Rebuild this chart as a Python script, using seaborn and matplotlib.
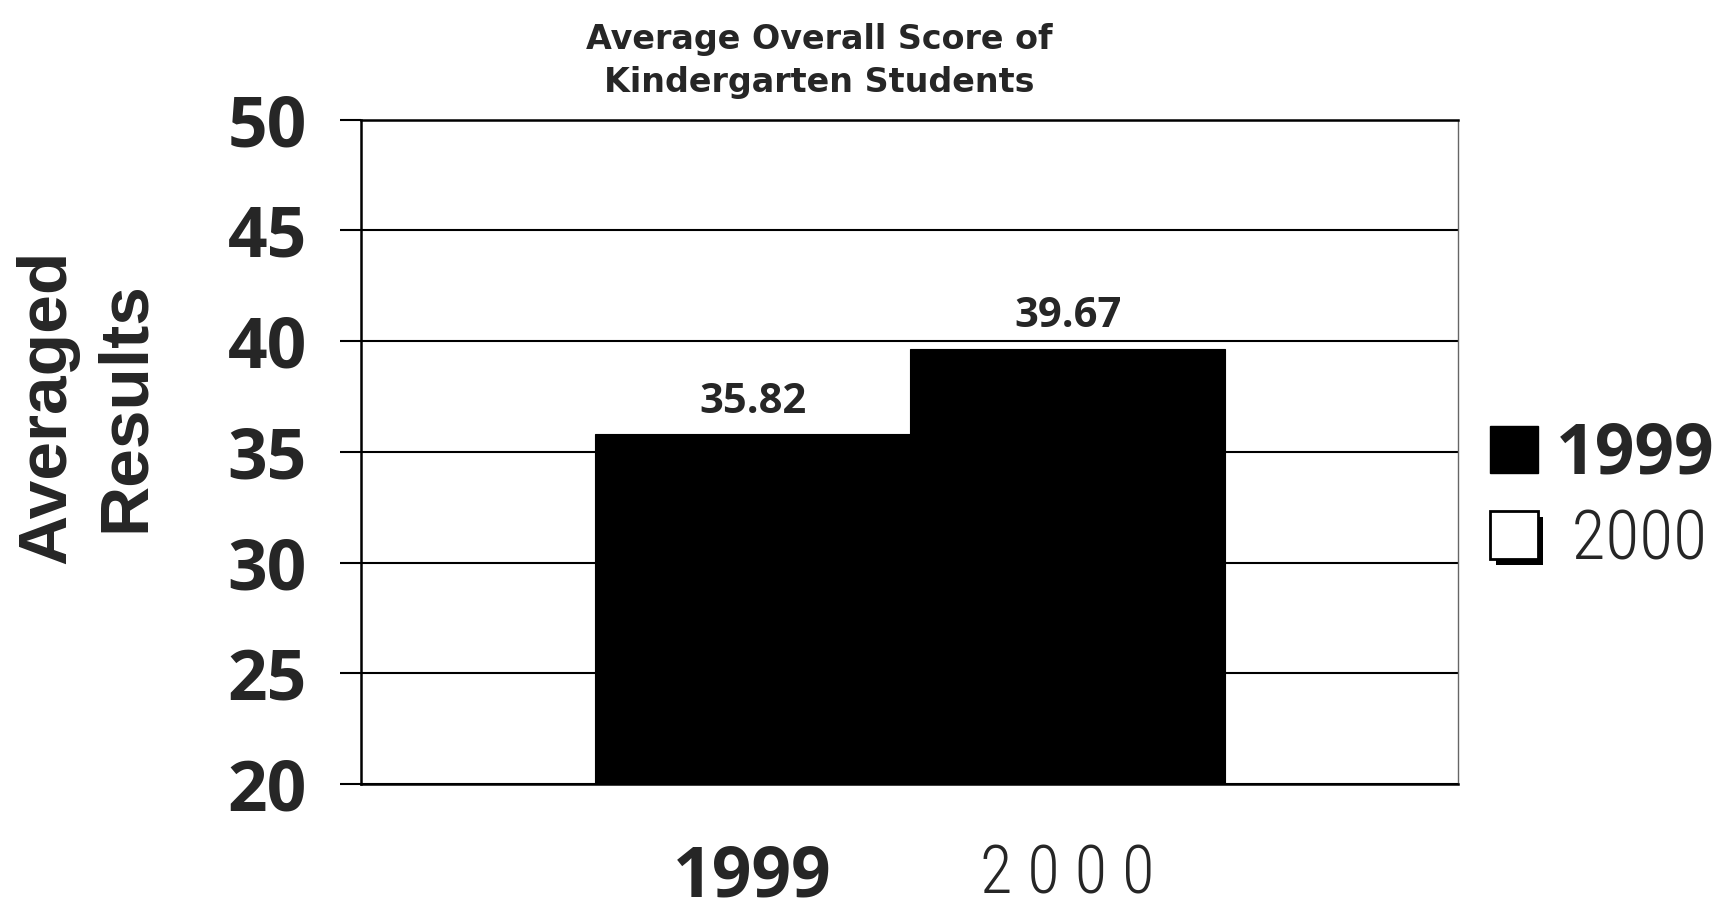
import matplotlib
matplotlib.use("Agg")
import matplotlib.pyplot as plt
import matplotlib.patches as mpatches
import matplotlib.patheffects as pe
from matplotlib import font_manager
import seaborn as sns
import pandas as pd

# data
years = ["1999", "2000"]
scores = [35.82, 39.67]
y_ticks = [20, 25, 30, 35, 40, 45, 50]
title = "Average Overall Score of\nKindergarten Students"
y_label = "Averaged\nResults"

sns.set_theme(style="white")

# pick fonts that exist in the box (bold one must really have a bold face)
ttf = font_manager.fontManager.ttflist
def has_bold(name):
    for f in ttf:
        if f.name != name:
            continue
        w = f.weight
        if isinstance(w, str):
            if w in ("bold", "heavy", "black", "extra bold", "semibold", "demibold"):
                return True
        elif w >= 600:
            return True
    return False

names = {f.name for f in ttf}
bold_font = next((n for n in ["Noto Sans", "Open Sans", "Lato", "Roboto", "DejaVu Sans"] if has_bold(n)), "DejaVu Sans")
label_font = next((n for n in ["Liberation Sans", "DejaVu Sans"] if n in names), "DejaVu Sans")
thin_font = next((n for n in ["Roboto Condensed", "Liberation Sans Narrow", "DejaVu Sans Condensed", "Roboto"] if n in names), "DejaVu Sans")
plt.rcParams["font.family"] = [bold_font, "DejaVu Sans"]

df = pd.DataFrame({"Year": years, "Score": scores})

fig = plt.figure(figsize=(17.36, 9.14), dpi=100)
ax = fig.add_axes([0.208, 0.142, 0.632, 0.727])

sns.barplot(data=df, x="Year", y="Score", hue="Year", palette=["black", "black"],
            width=1.0, saturation=1, legend=False, ax=ax, zorder=3,
            edgecolor="black", linewidth=0.8)

ax.set_ylim(20, 50)
ax.set_xlim(-1.243, 2.24)
ax.set_yticks(y_ticks)
ax.set_yticklabels([str(t) for t in y_ticks], fontsize=50, fontweight="bold", fontfamily=bold_font)
ax.tick_params(axis="y", left=True, length=15, width=1.5, color="black", pad=24)
ax.tick_params(axis="x", bottom=False, length=0, pad=43)

# x tick labels, two different looks like the scan
ax.set_xticks([0, 1])
ax.set_xticklabels(["1999", "2 0 0 0"])
xt = ax.get_xticklabels()
xt[0].set_fontsize(50)
xt[0].set_fontweight("bold")
xt[0].set_fontfamily(bold_font)
xt[1].set_fontsize(48)
xt[1].set_fontweight("light")
xt[1].set_fontfamily(thin_font)

ax.yaxis.grid(True, color="black", linewidth=1.5, zorder=0)
ax.xaxis.grid(False)
for s in ["left", "bottom", "top"]:
    ax.spines[s].set_color("black")
    ax.spines[s].set_linewidth(1.8)
ax.spines["right"].set_color("#666666")
ax.spines["right"].set_linewidth(1.0)

ax.set_xlabel("")
ax.set_ylabel(y_label, fontsize=50, fontweight="bold", fontfamily=label_font, linespacing=1.3)
ax.yaxis.set_label_coords(-0.185, 0.568)

ax.set_title(title, fontsize=24, fontweight="bold", fontfamily="DejaVu Sans",
             x=0.418, pad=20, linespacing=1.4)

for c in ax.containers:
    ax.bar_label(c, fmt="%.2f", padding=8, fontsize=30, fontweight="bold", fontfamily=bold_font)

# legend: filled square for 1999, white square with shadow for 2000
h1 = mpatches.Patch(facecolor="black", edgecolor="black", label="1999")
h2 = mpatches.Patch(facecolor="white", edgecolor="black", linewidth=2, label=" 2000",
                    path_effects=[pe.SimplePatchShadow(offset=(4, -4), shadow_rgbFace="black", alpha=1),
                                  pe.Normal()])
leg = ax.legend(handles=[h1, h2], loc="center left", bbox_to_anchor=(1.004, 0.432),
                frameon=False, fontsize=50, handlelength=0.68, handleheight=0.68,
                handletextpad=0.26, labelspacing=0.25, borderaxespad=0)
lt = leg.get_texts()
lt[0].set_fontweight("bold")
lt[0].set_fontfamily(bold_font)
lt[1].set_fontweight("light")
lt[1].set_fontfamily(thin_font)

fig.savefig("out.png", dpi=100, facecolor="white")
